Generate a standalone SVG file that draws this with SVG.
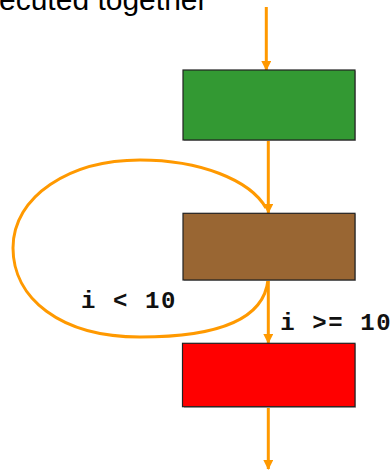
<svg xmlns="http://www.w3.org/2000/svg" width="391" height="474" viewBox="0 0 391 474">
<style>
.box{stroke:#222;stroke-width:1.2}
.shadow{fill:#bbb}
.edge{fill:none;stroke:#ff9900;stroke-width:3}
.lbl{font-family:"Liberation Mono","Courier New",monospace;font-weight:bold;font-size:24px;letter-spacing:1.6px;fill:#111}
.title{font-family:"Liberation Sans",Arial,sans-serif;font-size:30px;fill:#000}
</style>
<defs>
<marker id="ah" viewBox="0 0 10 10" refX="9" refY="5" markerWidth="10" markerHeight="10" markerUnits="userSpaceOnUse" orient="auto">
<path d="M0,0 L10,5 L0,10 Z" fill="#ff9900"/>
</marker>
</defs>
<rect width="391" height="474" fill="#fff"/>
<text class="title" x="-1" y="9.5">ecuted together</text>
<g id="connectors">
<line class="edge" x1="266.3" y1="7" x2="266.3" y2="70" marker-end="url(#ah)"/>
<line class="edge" x1="268.3" y1="140" x2="268.3" y2="213" marker-end="url(#ah)"/>
<path class="edge" d="M268,280 C264,318 222,337 140,337 C60,337 13,298 13,248 C13,196 70,160 140,160 C200,160 250,180 266,208"/>
<line class="edge" x1="268.3" y1="280" x2="268.3" y2="343" marker-end="url(#ah)"/>
<line class="edge" x1="268.3" y1="407" x2="268.3" y2="469" marker-end="url(#ah)"/>
</g>
<g id="node-green">
<rect class="shadow" x="184" y="71" width="172" height="70"/>
<rect class="box" x="183" y="70" width="172" height="70" fill="#339933"/>
</g>
<g id="node-brown">
<rect class="shadow" x="184" y="214" width="172" height="67"/>
<rect class="box" x="183" y="213.3" width="172" height="66.7" fill="#996633"/>
</g>
<g id="node-red">
<rect class="shadow" x="184" y="344" width="172" height="64"/>
<rect class="box" x="182.5" y="343.3" width="172.5" height="63.4" fill="#ff0000"/>
</g>
<g id="labels">
<text class="lbl" x="81" y="308">i &lt; 10</text>
<text class="lbl" x="280.3" y="330">i &gt;= 10</text>
</g>
</svg>
